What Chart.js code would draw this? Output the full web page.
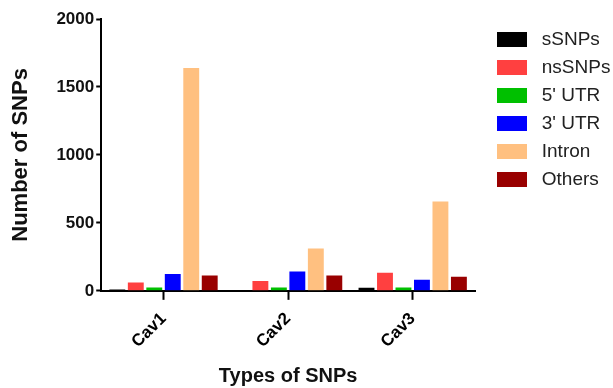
<!DOCTYPE html>
<html>
<head>
<meta charset="utf-8">
<script src="https://cdn.jsdelivr.net/npm/chart.js@4"></script>
<style>
  html, body { margin: 0; padding: 0; background: #fff; }
  #wrap { width: 613px; height: 388px; position: relative; }
</style>
</head>
<body>
<div id="wrap"><canvas id="chart"></canvas></div>
<script>
// data
const categories = ['Cav1', 'Cav2', 'Cav3'];
const seriesNames = ['sSNPs', 'nsSNPs', "5' UTR", "3' UTR", 'Intron', 'Others'];
const sSNPs = [10, 2, 22];
const nsSNPs = [62, 72, 133];
const utr5 = [25, 25, 25];
const utr3 = [123, 143, 81];
const intron = [1640, 312, 657];
const others = [113, 113, 103];
const yTicks = [0, 500, 1000, 1500, 2000];

const seriesValues = [sSNPs, nsSNPs, utr5, utr3, intron, others];
const seriesColors = ['#000000', '#ff4040', '#00c000', '#0000ff', '#ffc080', '#990000'];

Chart.defaults.font.family = 'Arial, "Liberation Sans", sans-serif';
Chart.defaults.color = '#000';

// legend sits a bit apart from the plot, like the original
const legendSpacing = {
    id: 'legendSpacing',
    afterInit(chart) {
        const legend = chart.legend;
        const fit = legend.fit;
        legend.fit = function () {
            fit.call(this);
            this.width = 134;
        };
    },
    afterLayout(chart) {
        chart.legend.left += 13;
        chart.legend.right += 13;
        chart.legend.top += 2;
    }
};

new Chart(document.getElementById('chart'), {
    type: 'bar',
    data: {
        labels: categories,
        datasets: seriesNames.map((name, i) => ({
            label: name,
            data: seriesValues[i],
            backgroundColor: seriesColors[i],
            borderWidth: 0,
            categoryPercentage: 0.89,
            barPercentage: 0.86
        }))
    },
    options: {
        responsive: true,
        maintainAspectRatio: false,
        animation: false,
        layout: { padding: { top: 19, right: 4, left: 4, bottom: 0 } },
        plugins: {
            tooltip: { enabled: false },
            legend: {
                position: 'right',
                align: 'start',
                labels: {
                    boxWidth: 30,
                    boxHeight: 15,
                    padding: 9,
                    font: { size: 19 },
                    color: '#222',
                    generateLabels: chart => Chart.defaults.plugins.legend.labels.generateLabels(chart)
                        .map(item => ({ ...item, text: ' ' + item.text }))
                }
            }
        },
        scales: {
            x: {
                grid: { display: true, drawOnChartArea: false, offset: false, tickLength: 9, tickWidth: 2, tickColor: '#000' },
                border: { color: '#000', width: 2 },
                ticks: {
                    maxRotation: 45,
                    minRotation: 45,
                    padding: 9,
                    font: { size: 17, weight: 'bold' },
                    color: '#000'
                },
                title: {
                    display: true,
                    text: 'Types of SNPs',
                    padding: { top: 3, bottom: 0 },
                    font: { size: 20, weight: 'bold' },
                    color: '#111'
                }
            },
            y: {
                min: 0,
                max: 2000,
                afterBuildTicks: axis => { axis.ticks = yTicks.map(v => ({ value: v })); },
                grid: { display: true, drawOnChartArea: false, tickLength: 5, tickWidth: 2, tickColor: '#000' },
                border: { color: '#000', width: 2 },
                ticks: {
                    font: { size: 17, weight: 'bold' },
                    color: '#111',
                    padding: 2,
                    callback: v => String(v)
                },
                title: {
                    display: true,
                    text: 'Number of SNPs',
                    padding: { top: 4, bottom: 20 },
                    font: { size: 22, weight: 'bold' },
                    color: '#111'
                }
            }
        }
    },
    plugins: [legendSpacing]
});
</script>
</body>
</html>
